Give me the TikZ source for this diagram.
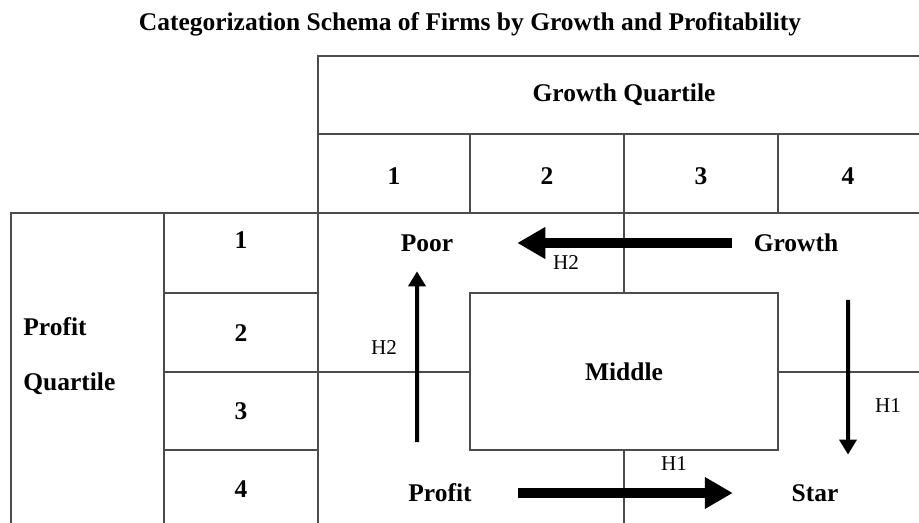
\documentclass[tikz,border=0pt]{standalone}
\usepackage{fontspec}
\setmainfont{Liberation Serif}
\usetikzlibrary{arrows.meta}

\begin{document}
\begin{tikzpicture}[
    grid/.style={draw=black!70, line width=0.8pt},
    thingrid/.style={draw=black!70, line width=0.6pt},
    lab/.style={inner sep=0pt, font=\fontsize{14.5}{17}\selectfont\bfseries},
    hyp/.style={inner sep=0pt, font=\fontsize{12}{14}\selectfont},
    bigarrow/.style={line width=0.2cm, -{Triangle[length=0.56cm, width=0.6cm]}},
    smallarrow/.style={line width=0.08cm, -{Triangle[length=0.3cm, width=0.34cm]}}
]
    \useasboundingbox (0, 0) rectangle (18.38, 10.46);

    \node[lab] (title) at (9.4, 9.98) {Categorization Schema of Firms by Growth and Profitability};

    % growth header and column numbers
    \draw[grid] (6.36, 0) -- (6.36, 9.34) -- (18.38, 9.34);
    \draw[grid] (6.36, 7.78) -- (18.38, 7.78);
    \draw[grid] (0.22, 0) -- (0.22, 6.2) -- (18.38, 6.2);
    \draw[grid] (9.4, 6.2) -- (9.4, 7.78);
    \draw[grid] (12.48, 4.6) -- (12.48, 7.78);
    \draw[grid] (15.56, 6.2) -- (15.56, 7.78);
    \draw[grid] (12.48, 0) -- (12.48, 1.46);
    \node[lab] (growthq) at (12.48, 8.56) {Growth Quartile};
    \node[lab] (g1) at (7.88, 6.94) {1};
    \node[lab] (g2) at (10.94, 6.94) {2};
    \node[lab] (g3) at (14.02, 6.94) {3};
    \node[lab] (g4) at (16.96, 6.94) {4};

    % profit rows
    \draw[grid] (3.28, 0) -- (3.28, 6.2);
    \draw[grid] (3.28, 4.6) -- (6.36, 4.6);
    \draw[grid] (3.28, 3.02) -- (6.36, 3.02);
    \draw[grid] (3.28, 1.46) -- (6.36, 1.46);
    \draw[thingrid] (6.36, 3.02) -- (9.4, 3.02);
    \draw[thingrid] (15.56, 3.02) -- (18.38, 3.02);
    \node[lab, anchor=west] (profq1) at (0.46, 3.92) {Profit};
    \node[lab, anchor=west] (profq2) at (0.46, 2.78) {Quartile};
    \node[lab] (p1) at (4.82, 5.66) {1};
    \node[lab] (p2) at (4.82, 3.8) {2};
    \node[lab] (p3) at (4.82, 2.24) {3};
    \node[lab] (p4) at (4.82, 0.68) {4};

    % firm groups
    \node[thingrid, fill=white, minimum width=6.16cm, minimum height=3.14cm, lab] (middle) at (12.48, 3.03) {Middle};
    \node[lab] (poor) at (8.54, 5.6) {Poor};
    \node[lab] (growth) at (15.92, 5.6) {Growth};
    \node[lab] (profit) at (8.8, 0.6) {Profit};
    \node[lab] (star) at (16.3, 0.6) {Star};

    \draw[bigarrow] ([xshift=-0.43cm]growth.west) -- ([xshift=1.275cm]poor.east);
    \draw[bigarrow] ([xshift=0.92cm]profit.east) -- ([xshift=-1.17cm]star.west);
    \draw[smallarrow] ([xshift=-0.46cm, yshift=0.83cm]profit.north) -- ([xshift=-0.2cm, yshift=-0.39cm]poor.south);
    \draw[smallarrow] ([xshift=1.04cm, yshift=-0.95cm]growth.south) -- ([xshift=0.66cm, yshift=0.59cm]star.north);

    \node[hyp] (h2a) at (7.68, 3.5) {H2};
    \node[hyp] (h2b) at (11.32, 5.2) {H2};
    \node[hyp] (h1a) at (17.76, 2.34) {H1};
    \node[hyp] (h1b) at (13.48, 1.18) {H1};
\end{tikzpicture}
\end{document}
